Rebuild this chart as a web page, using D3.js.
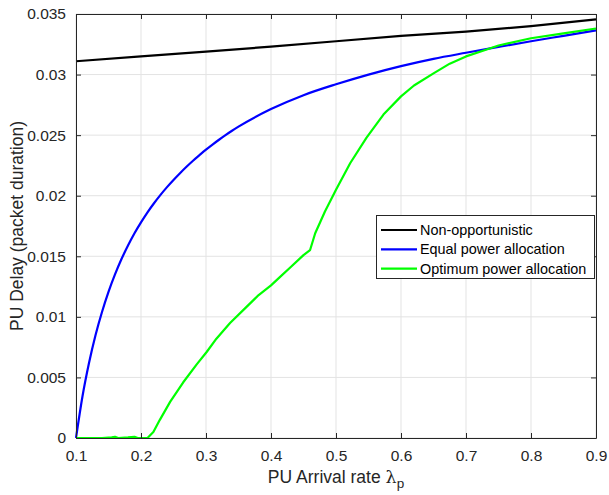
<!DOCTYPE html>
<html>
<head>
<meta charset="utf-8">
<script src="https://cdn.jsdelivr.net/npm/d3@7"></script>
<style>
  html, body { margin: 0; padding: 0; background: #fff; }
  text { font-family: "Liberation Sans", Arial, Helvetica, sans-serif; }
</style>
</head>
<body>
<svg id="chart" width="609" height="495"></svg>
<script>
// ---- data ----
const xTicks = [0.1, 0.2, 0.3, 0.4, 0.5, 0.6, 0.7, 0.8, 0.9];
const yTicks = [0, 0.005, 0.01, 0.015, 0.02, 0.025, 0.03, 0.035];
const yTickLabels = ["0", "0.005", "0.01", "0.015", "0.02", "0.025", "0.03", "0.035"];
const seriesNames = ["Non-opportunistic", "Equal power allocation", "Optimum power allocation"];
const seriesColors = ["#000000", "#0000ff", "#00ff00"];

const nonOppX = [0.1, 0.2, 0.3, 0.4, 0.5, 0.6, 0.7, 0.8, 0.9];
const nonOppY = [0.0311, 0.0315, 0.0319, 0.0323, 0.03275, 0.0332, 0.03355, 0.0340, 0.03455];

const equalX = [0.10, 0.11, 0.12, 0.13, 0.14, 0.15, 0.16, 0.17, 0.18, 0.19, 0.20, 0.21, 0.22, 0.23, 0.24, 0.25, 0.26, 0.27, 0.28, 0.29, 0.30, 0.31, 0.32, 0.33, 0.34, 0.35, 0.40, 0.45, 0.50, 0.55, 0.60, 0.65, 0.70, 0.75, 0.80, 0.85, 0.90];
const equalY = [0, 0.00345, 0.00619, 0.00848, 0.0104, 0.01206, 0.0135, 0.01477, 0.01589, 0.0169, 0.0178, 0.01863, 0.01938, 0.02007, 0.02071, 0.0213, 0.02186, 0.02239, 0.02289, 0.02335, 0.0238, 0.02422, 0.02462, 0.025, 0.02536, 0.0257, 0.02715, 0.0283, 0.0292, 0.0300, 0.0307, 0.0313, 0.0318, 0.03228, 0.03275, 0.0332, 0.03365];

const optX = [0.1, 0.12, 0.14, 0.155, 0.16, 0.165, 0.18, 0.19, 0.195, 0.21, 0.219, 0.229, 0.245, 0.265, 0.286, 0.301, 0.316, 0.337, 0.36, 0.381, 0.40, 0.414, 0.43, 0.45, 0.46, 0.468, 0.483, 0.50, 0.522, 0.547, 0.573, 0.60, 0.62, 0.65, 0.675, 0.70, 0.725, 0.75, 0.80, 0.85, 0.9];
const optY = [0, 0, 0, 0.00005, 0.0001, 0, 0.00005, 0.0001, 0, 0, 0.0005, 0.0015, 0.0030, 0.0046, 0.0061, 0.0071, 0.0082, 0.0095, 0.0107, 0.0118, 0.0126, 0.0133, 0.0141, 0.0151, 0.0155, 0.0169, 0.0187, 0.0205, 0.0227, 0.0248, 0.0267, 0.0282, 0.0291, 0.0301, 0.0309, 0.0315, 0.03195, 0.0324, 0.0330, 0.0334, 0.0338];

const xLabel = "PU Arrival rate ";
const yLabel = "PU Delay (packet duration)";

// ---- layout ----
const svg = d3.select("#chart");
const m = { left: 76, top: 14, right: 596, bottom: 438 };
const x = d3.scaleLinear().domain([0.1, 0.9]).range([m.left, m.right]);
const y = d3.scaleLinear().domain([0, 0.035]).range([m.bottom, m.top]);
const axisColor = "#262626";

// grid
const g = svg.append("g");
g.selectAll(".vg").data(xTicks).join("line")
  .attr("x1", d => x(d)).attr("x2", d => x(d))
  .attr("y1", m.top).attr("y2", m.bottom)
  .attr("stroke", "#e3e3e3").attr("stroke-width", 1);
g.selectAll(".hg").data(yTicks).join("line")
  .attr("y1", d => y(d)).attr("y2", d => y(d))
  .attr("x1", m.left).attr("x2", m.right)
  .attr("stroke", "#e3e3e3").attr("stroke-width", 1);

// lines
const pack = (xs, ys) => xs.map((v, i) => [v, ys[i]]);
const series = [pack(nonOppX, nonOppY), pack(equalX, equalY), pack(optX, optY)];
const curves = [d3.curveLinear, d3.curveMonotoneX, d3.curveLinear];
series.forEach((s, i) => {
  svg.append("path").datum(s)
    .attr("d", d3.line().x(d => x(d[0])).y(d => y(d[1])).curve(curves[i]))
    .attr("fill", "none").attr("stroke", seriesColors[i])
    .attr("stroke-width", 2.2).attr("stroke-linejoin", "round");
});

// axes (MATLAB box with inward ticks)
const fs = "15.5px";
const xAxis = d3.axisBottom(x).tickValues(xTicks).tickSizeInner(-5).tickSizeOuter(0).tickPadding(12).tickFormat(d3.format(".1f"));
const yAxis = d3.axisLeft(y).tickValues(yTicks).tickSizeInner(-5).tickSizeOuter(0).tickPadding(10).tickFormat((d, i) => yTickLabels[i]);
const xTop = d3.axisTop(x).tickValues(xTicks).tickSizeInner(-5).tickSizeOuter(0).tickFormat("");
const yRight = d3.axisRight(y).tickValues(yTicks).tickSizeInner(-5).tickSizeOuter(0).tickFormat("");

function style(sel) {
  sel.selectAll("path").attr("stroke", axisColor);
  sel.selectAll("line").attr("stroke", axisColor);
  sel.selectAll("text").attr("fill", axisColor).style("font-size", fs)
    .style("font-family", '"Liberation Sans", Arial, sans-serif');
}
svg.append("g").attr("transform", `translate(0,${m.bottom})`).call(xAxis).call(style);
svg.append("g").attr("transform", `translate(${m.left},0)`).call(yAxis).call(style);
svg.append("g").attr("transform", `translate(0,${m.top})`).call(xTop).call(style);
svg.append("g").attr("transform", `translate(${m.right},0)`).call(yRight).call(style);

// axis labels
const xl = svg.append("text")
  .attr("x", (m.left + m.right) / 2).attr("y", 483)
  .attr("text-anchor", "middle").attr("fill", axisColor)
  .style("font-size", "17.5px");
xl.append("tspan").text(xLabel);
xl.append("tspan").style("font-family", '"DejaVu Serif", serif').text("λ");
xl.append("tspan").attr("dy", 5).style("font-size", "13.5px").text("p");

svg.append("text")
  .attr("transform", `translate(23,${(m.top + m.bottom) / 2}) rotate(-90)`)
  .attr("text-anchor", "middle").attr("fill", axisColor)
  .style("font-size", "17.5px").text(yLabel);

// legend
const lg = svg.append("g");
lg.append("rect").attr("x", 376.5).attr("y", 215.5).attr("width", 218).attr("height", 63)
  .attr("fill", "#fff").attr("stroke", axisColor).attr("stroke-width", 1);
seriesNames.forEach((name, i) => {
  const yy = 230 + i * 19.3;
  lg.append("line").attr("x1", 381).attr("x2", 417).attr("y1", yy).attr("y2", yy)
    .attr("stroke", seriesColors[i]).attr("stroke-width", 2.2);
  lg.append("text").attr("x", 420).attr("y", yy + 5).attr("fill", "#000")
    .style("font-size", "14.4px").text(name);
});
</script>
</body>
</html>
